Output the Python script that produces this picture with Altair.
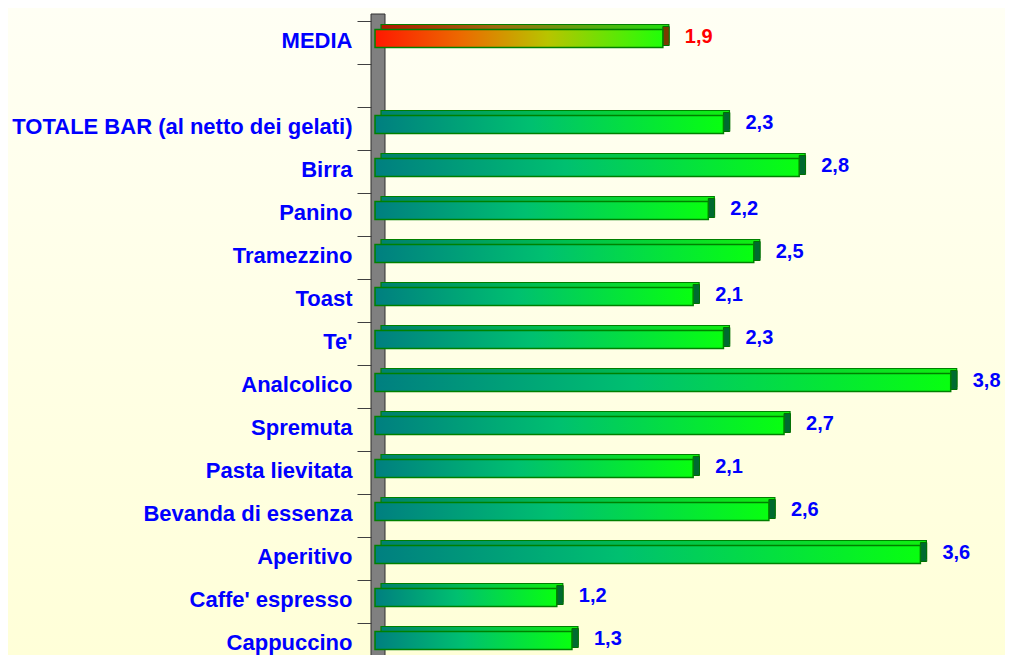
import altair as alt
import pandas as pd

categories = ["MEDIA", " ", "TOTALE BAR (al netto dei gelati)", "Birra", "Panino",
              "Tramezzino", "Toast", "Te'", "Analcolico", "Spremuta",
              "Pasta lievitata", "Bevanda di essenza", "Aperitivo",
              "Caffe' espresso", "Cappuccino"]
bar_names = ["MEDIA", "TOTALE BAR (al netto dei gelati)", "Birra", "Panino",
             "Tramezzino", "Toast", "Te'", "Analcolico", "Spremuta",
             "Pasta lievitata", "Bevanda di essenza", "Aperitivo",
             "Caffe' espresso", "Cappuccino"]
bar_values = [1.9, 2.3, 2.8, 2.2, 2.5, 2.1, 2.3, 3.8, 2.7, 2.1, 2.6, 3.6, 1.2, 1.3]

df = pd.DataFrame({"cat": bar_names, "v": bar_values})

FONT = "Liberation Sans"
W, H = 600, 634

def grad(stops):
    return alt.Gradient(gradient="linear", x1=0, y1=0, x2=1, y2=0,
                        stops=[alt.GradientStop(offset=o, color=c) for o, c in stops])

front_green = grad([(0, "#007f80"), (0.45, "#00c070"), (1, "#08ff10")])
top_green = grad([(0, "#008070"), (0.5, "#00c050"), (1, "#10f010")])
front_red = grad([(0, "#ff1800"), (0.3, "#ec6a00"), (0.6, "#b8c400"), (1, "#20ff08")])
top_red = grad([(0, "#b01800"), (0.4, "#a06a10"), (1, "#20e010")])
bg_grad = alt.Gradient(gradient="linear", x1=0, y1=0, x2=0, y2=1,
                       stops=[alt.GradientStop(offset=0, color="#fffff4"),
                              alt.GradientStop(offset=1, color="#ffffd8")])

xs = alt.Scale(domain=[0, W / 151.5], nice=False, zero=True)
y_enc = alt.Y("cat:N", sort=categories,
              scale=alt.Scale(domain=categories, paddingInner=0, paddingOuter=0,
                              range=[0, 645]),
              axis=alt.Axis(title=None, domain=False, ticks=True, tickSize=14,
                            tickColor="#404040", tickWidth=1, tickBand="extent",
                            offset=4, labelFont=FONT, labelFontSize=22,
                            labelFontWeight="bold", labelColor="#0000ff",
                            labelPadding=5, labelLimit=420, labelOffset=-2,
                            grid=False, zindex=1))
x_enc = alt.X("v:Q", scale=xs, axis=None)

base = alt.Chart(df)

background = alt.Chart(pd.DataFrame({"a": [0]})).mark_rect(color=bg_grad).encode(
    x=alt.value(-367), x2=alt.value(W + 30), y=alt.value(-13), y2=alt.value(H))

wall = alt.Chart(pd.DataFrame({"a": [0]})).mark_rect(
    color="#808080", stroke="#303030", strokeWidth=1, xOffset=-4, x2Offset=10
).encode(x=alt.X("a:Q", scale=xs, axis=None),
         x2=alt.X2("a:Q"), y=alt.value(-7), y2=alt.value(H + 5))

layers = [background, wall]
for is_media in (True, False):
    flt = "datum.cat == 'MEDIA'" if is_media else "datum.cat != 'MEDIA'"
    top_c = top_red if is_media else top_green
    front_c = front_red if is_media else front_green
    side_c = "#7a3a00" if is_media else "#006a30"
    b = base.transform_filter(flt)
    back = b.mark_bar(color=top_c, stroke="#008000", strokeWidth=1.2, size=18,
                      xOffset=6, yOffset=-9).encode(x=x_enc, y=y_enc)
    side = b.transform_calculate(vend="datum.v + 0.042").mark_bar(
        color=side_c, stroke="#007000", strokeWidth=1, size=19, yOffset=-6.5
    ).encode(x=x_enc, x2="vend:Q", y=y_enc)
    front = b.mark_bar(color=front_c, stroke="#008000", strokeWidth=1.5, size=18,
                       yOffset=-4).encode(x=x_enc, y=y_enc)
    txt = b.transform_calculate(
        lab="replace(format(datum.v, '.1f'), '.', ',')"
    ).mark_text(align="left", baseline="middle", dx=22, dy=-6, font=FONT,
                fontSize=20, fontWeight="bold",
                color="#ff0000" if is_media else "#0000ff").encode(
        x=x_enc, y=y_enc, text="lab:N")
    layers += [back, side, front, txt]

chart = alt.layer(*layers).properties(
    width=W, height=H,
    padding={"left": 367, "top": 13, "right": 30, "bottom": 0},
    autosize=alt.AutoSizeParams(type="none"),
).configure_view(stroke=None).configure(background="#fffff0")

chart.save("out.html", embed_options={"renderer": "svg", "actions": False})
